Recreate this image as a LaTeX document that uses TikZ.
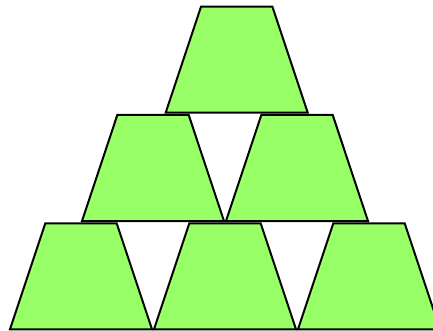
\documentclass[tikz,border=0pt]{standalone}
\definecolor{cupgreen}{RGB}{153,255,102}
\tikzset{cup/.style={fill=cupgreen,draw=black,line width=2pt,line join=miter}}
\begin{document}
\begin{tikzpicture}[x=1pt,y=-1pt]
\useasboundingbox (0,0) rectangle (433,331);
\clip (0,0) rectangle (433,331);
\foreach \x/\y in {201/6.7, 117.3/115, 261.3/115, 45.3/223.3, 189.3/223.3, 333.3/223.3}{
  \draw[cup] (\x,\y) -- ++(71.4,0) -- ++(35.3,106) -- ++(-142,0) -- cycle;
}
\end{tikzpicture}
\end{document}
